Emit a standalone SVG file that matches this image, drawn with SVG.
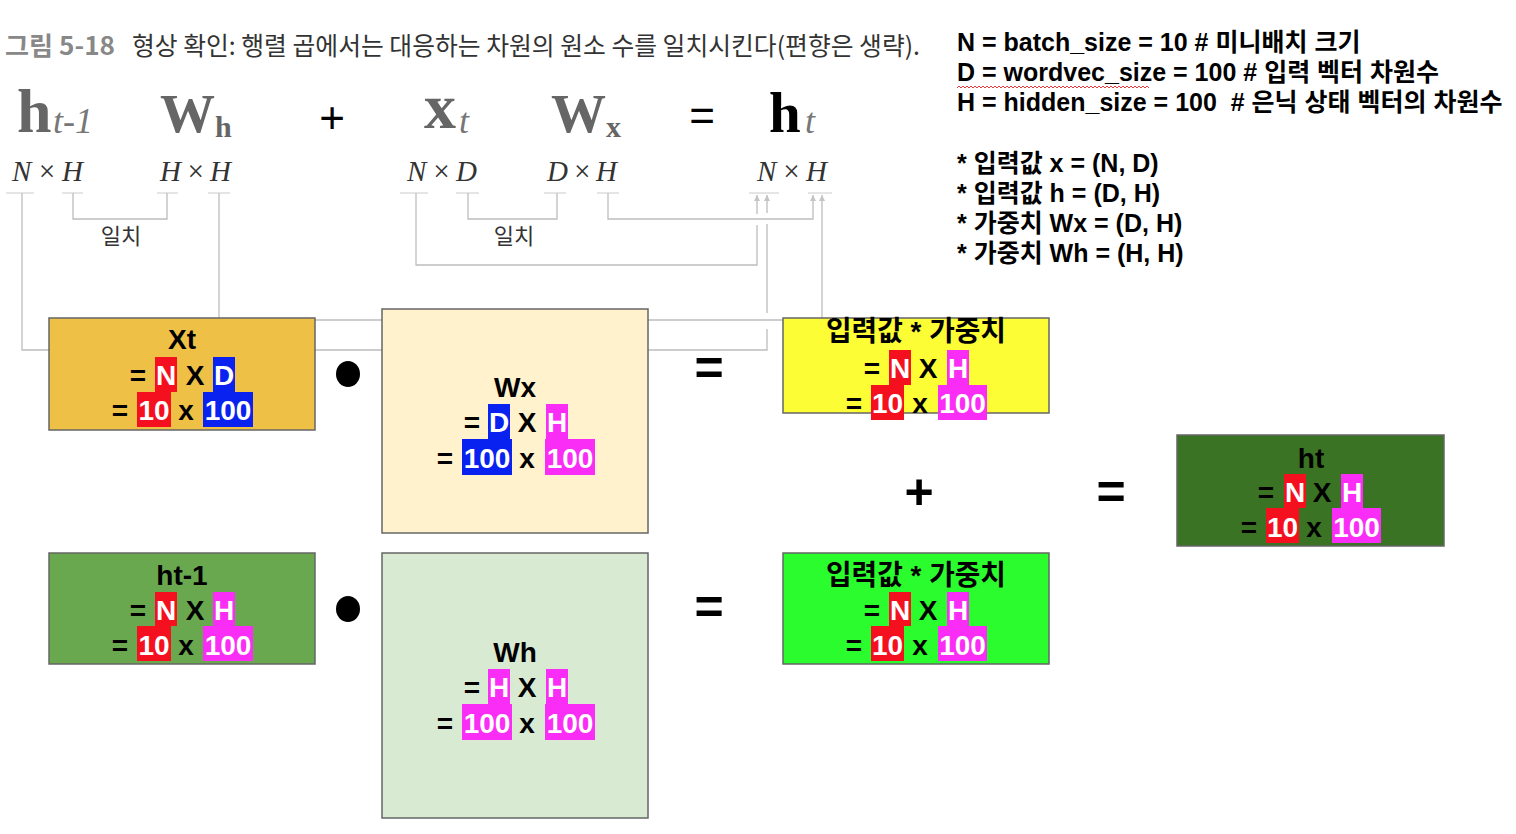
<svg xmlns="http://www.w3.org/2000/svg" width="1516" height="834" viewBox="0 0 1516 834">
<defs>
<style>
.sans{font-family:"Liberation Sans","Noto Sans CJK KR",sans-serif;}
.kr{font-family:"Noto Sans CJK KR","Liberation Sans",sans-serif;}
.ser{font-family:"Liberation Serif","DejaVu Serif",serif;}
.bx{stroke:#666;stroke-width:1.5;}
.t{font-family:"Liberation Sans","Noto Sans CJK KR",sans-serif;font-weight:bold;font-size:28px;fill:#000;text-anchor:middle;}
.w{fill:#fff;}
.red{fill:#F5101F;}
.blu{fill:#0A22F0;}
.mag{fill:#FA2DF6;}
.tick{stroke:#cccccc;stroke-width:1.2;fill:none;}
.ln{stroke:#bdbdbd;stroke-width:1.3;fill:none;}
.dim{font-family:"Liberation Serif","DejaVu Serif",serif;font-style:italic;font-size:29px;fill:#333;}
.info{font-family:"Liberation Sans","Noto Sans CJK KR",sans-serif;font-weight:bold;font-size:25px;fill:#000;white-space:pre;}
.op{font-family:"Liberation Sans",sans-serif;font-weight:bold;font-size:50px;fill:#000;text-anchor:middle;}
</style>
<marker id="arr" viewBox="0 0 10 10" refX="10" refY="5" markerWidth="9" markerHeight="6" orient="auto" markerUnits="userSpaceOnUse">
<path d="M0,0 L10,5 L0,10 z" fill="#c4c4c4"/>
</marker>
</defs>
<rect x="0" y="0" width="1516" height="834" fill="#fff"/>

<g id="title">
<text x="5" y="55" class="kr" font-size="25" font-weight="bold" fill="#888" textLength="110" lengthAdjust="spacingAndGlyphs">그림 5-18</text>
<text x="132" y="55" class="kr" font-size="25" fill="#333" textLength="788" lengthAdjust="spacingAndGlyphs">형상 확인: 행렬 곱에서는 대응하는 차원의 원소 수를 일치시킨다(편향은 생략).</text>
</g>

<g id="formula">
<text x="17" y="132" class="ser" font-size="62" font-weight="bold" fill="#666">h</text>
<text x="53" y="133" class="ser" font-size="36" font-style="italic" fill="#777">t-1</text>
<text x="160" y="132" class="ser" font-size="55" font-weight="bold" fill="#666">W<tspan font-size="30" dy="5">h</tspan></text>
<text x="332" y="133" class="sans" font-size="44" fill="#000" text-anchor="middle">+</text>
<text x="424" y="128" class="ser" font-size="64" font-weight="bold" fill="#666">x</text>
<text x="459" y="133" class="ser" font-size="36" font-style="italic" fill="#777">t</text>
<text x="551" y="132" class="ser" font-size="55" font-weight="bold" fill="#666">W<tspan font-size="30" dy="5">x</tspan></text>
<text x="702" y="131" class="sans" font-size="44" fill="#000" text-anchor="middle">=</text>
<text x="769" y="132" class="ser" font-size="57" font-weight="bold" fill="#000">h</text>
<text x="805" y="133" class="ser" font-size="36" font-style="italic" fill="#777">t</text>
<text x="12" y="181" class="dim" textLength="71">N × H</text>
<text x="160" y="181" class="dim" textLength="71">H × H</text>
<text x="407" y="181" class="dim" textLength="70">N × D</text>
<text x="547" y="181" class="dim" textLength="70">D × H</text>
<text x="757" y="181" class="dim" textLength="70">N × H</text>
<text x="121" y="244" class="kr" font-size="22" fill="#333" text-anchor="middle">일치</text>
<text x="514" y="244" class="kr" font-size="22" fill="#333" text-anchor="middle">일치</text>
</g>

<g id="info">
<text x="957" y="51" class="info">N = batch_size = 10 # 미니배치 크기</text>
<text x="957" y="81" class="info">D = wordvec_size = 100 # 입력 벡터 차원수</text>
<path d="M957,88 l2,-2 2,2 2,-2 2,2 2,-2 2,2 2,-2 2,2 2,-2 2,2 2,-2 2,2 2,-2 2,2 2,-2 2,2 2,-2 2,2 2,-2 2,2 2,-2 2,2 2,-2 2,2 2,-2 2,2 2,-2 2,2 2,-2 2,2 2,-2 2,2 2,-2 2,2 2,-2 2,2 2,-2 2,2 2,-2 2,2 2,-2 2,2 2,-2 2,2 2,-2 2,2 2,-2 2,2 2,-2 2,2 2,-2 2,2 2,-2 2,2 2,-2 2,2 2,-2 2,2 2,-2 2,2 2,-2 2,2 2,-2 2,2 2,-2 2,2 2,-2 2,2 2,-2 2,2 2,-2 2,2 2,-2 2,2 2,-2 2,2 2,-2 2,2 2,-2 2,2 2,-2 2,2 2,-2 2,2 2,-2 2,2 2,-2 2,2 2,-2 2,2 2,-2 2,2 2,-2 2,2 2,-2 2,2" stroke="#e23a3a" stroke-width="1" fill="none"/>
<text x="957" y="111" class="info" xml:space="preserve">H = hidden_size = 100  # 은닉 상태 벡터의 차원수</text>
<text x="957" y="172" class="info">* 입력값 x = (N, D)</text>
<text x="957" y="202" class="info">* 입력값 h = (D, H)</text>
<text x="957" y="232" class="info">* 가중치 Wx = (D, H)</text>
<text x="957" y="262" class="info">* 가중치 Wh = (H, H)</text>
</g>

<g id="connectors">
<path class="tick" d="M6,193H34 M62,193H83 M157,193H178 M208,193H230 M400,193H428 M456,193H479 M544,193H566 M597,193H619 M749,193H779 M808,193H832"/>
<path class="ln" d="M73,193V219H167V193"/>
<path class="ln" d="M468,193V219H557V193"/>
<path class="ln" d="M22,193V350H767V329 M767,313V224"/>
<path class="ln" d="M767,213V195" marker-end="url(#arr)"/>
<path class="ln" d="M219,193V320H822V195" marker-end="url(#arr)"/>
<path class="ln" d="M416,193V265H757V225"/>
<path class="ln" d="M757,214V195" marker-end="url(#arr)"/>
<path class="ln" d="M608,193V219H813V195" marker-end="url(#arr)"/>
</g>

<g id="node-xt">
<rect class="bx" x="49" y="318" width="266" height="112" fill="#EFC046"/>
<text class="t" x="182" y="349">Xt</text>
<text class="t" x="138" y="385">=</text>
<rect class="red" x="155" y="357" width="22" height="35"/><text class="t w" x="166" y="385">N</text>
<text class="t" x="195" y="385">X</text>
<rect class="blu" x="213" y="357" width="22" height="35"/><text class="t w" x="224" y="385">D</text>
<text class="t" x="120" y="420">=</text>
<rect class="red" x="137" y="392" width="34" height="35"/><text class="t w" x="154" y="420">10</text>
<text class="t" x="186" y="420">x</text>
<rect class="blu" x="203" y="392" width="50" height="35"/><text class="t w" x="228" y="420">100</text>
</g>

<g id="node-wx">
<rect class="bx" x="382" y="309" width="266" height="224" fill="#FFF2CC"/>
<text class="t" x="515" y="397">Wx</text>
<text class="t" x="472" y="432">=</text>
<rect class="blu" x="488" y="404" width="22" height="35"/><text class="t w" x="499" y="432">D</text>
<text class="t" x="527" y="432">X</text>
<rect class="mag" x="546" y="404" width="22" height="35"/><text class="t w" x="557" y="432">H</text>
<text class="t" x="445" y="468">=</text>
<rect class="blu" x="462" y="439" width="50" height="36"/><text class="t w" x="487" y="468">100</text>
<text class="t" x="527" y="468">x</text>
<rect class="mag" x="545" y="439" width="50" height="36"/><text class="t w" x="570" y="468">100</text>
</g>

<g id="dot1"><ellipse cx="348" cy="374" rx="12" ry="13" fill="#000"/></g>
<g id="eq1"><text class="op" x="709" y="385">=</text></g>

<g id="node-xw">
<rect class="bx" x="783" y="318" width="266" height="95" fill="#FDFD36"/>
<text class="t" x="916" y="341" font-size="30" textLength="180" lengthAdjust="spacingAndGlyphs">입력값 * 가중치</text>
<text class="t" x="872" y="378">=</text>
<rect class="red" x="889" y="350" width="22" height="35"/><text class="t w" x="900" y="378">N</text>
<text class="t" x="928" y="378">X</text>
<rect class="mag" x="947" y="350" width="22" height="35"/><text class="t w" x="958" y="378">H</text>
<text class="t" x="854" y="413">=</text>
<rect class="red" x="871" y="385" width="33" height="35"/><text class="t w" x="887.5" y="413">10</text>
<text class="t" x="920" y="413">x</text>
<rect class="mag" x="938" y="385" width="49" height="35"/><text class="t w" x="962.5" y="413">100</text>
</g>

<g id="plus"><text class="op" x="919" y="509">+</text></g>
<g id="eq3"><text class="op" x="1111" y="509">=</text></g>

<g id="node-ht">
<rect class="bx" x="1177" y="435" width="267" height="111" fill="#3A7323"/>
<text class="t" x="1311" y="468">ht</text>
<text class="t" x="1266" y="502">=</text>
<rect class="red" x="1284" y="474" width="22" height="34"/><text class="t w" x="1295" y="502">N</text>
<text class="t" x="1322" y="502">X</text>
<rect class="mag" x="1341" y="474" width="22" height="34"/><text class="t w" x="1352" y="502">H</text>
<text class="t" x="1249" y="537">=</text>
<rect class="red" x="1266" y="508" width="33" height="35"/><text class="t w" x="1282.5" y="537">10</text>
<text class="t" x="1314" y="537">x</text>
<rect class="mag" x="1332" y="508" width="49" height="35"/><text class="t w" x="1356.5" y="537">100</text>
</g>

<g id="node-ht1">
<rect class="bx" x="49" y="553" width="266" height="111" fill="#6AA84F"/>
<text class="t" x="182" y="585">ht-1</text>
<text class="t" x="138" y="620">=</text>
<rect class="red" x="155" y="592" width="22" height="34"/><text class="t w" x="166" y="620">N</text>
<text class="t" x="195" y="620">X</text>
<rect class="mag" x="213" y="592" width="22" height="34"/><text class="t w" x="224" y="620">H</text>
<text class="t" x="120" y="655">=</text>
<rect class="red" x="137" y="626" width="34" height="35"/><text class="t w" x="154" y="655">10</text>
<text class="t" x="186" y="655">x</text>
<rect class="mag" x="203" y="626" width="50" height="35"/><text class="t w" x="228" y="655">100</text>
</g>

<g id="dot2"><ellipse cx="348" cy="609" rx="12" ry="13" fill="#000"/></g>

<g id="node-wh">
<rect class="bx" x="382" y="553" width="266" height="265" fill="#D9EAD3"/>
<text class="t" x="515" y="662">Wh</text>
<text class="t" x="472" y="697">=</text>
<rect class="mag" x="488" y="669" width="22" height="35"/><text class="t w" x="499" y="697">H</text>
<text class="t" x="527" y="697">X</text>
<rect class="mag" x="546" y="669" width="22" height="35"/><text class="t w" x="557" y="697">H</text>
<text class="t" x="445" y="733">=</text>
<rect class="mag" x="462" y="704" width="50" height="36"/><text class="t w" x="487" y="733">100</text>
<text class="t" x="527" y="733">x</text>
<rect class="mag" x="545" y="704" width="50" height="36"/><text class="t w" x="570" y="733">100</text>
</g>

<g id="eq2"><text class="op" x="709" y="624">=</text></g>

<g id="node-hw">
<rect class="bx" x="783" y="553" width="266" height="111" fill="#2BFC2E"/>
<text class="t" x="916" y="585" font-size="30" textLength="180" lengthAdjust="spacingAndGlyphs">입력값 * 가중치</text>
<text class="t" x="872" y="620">=</text>
<rect class="red" x="889" y="592" width="22" height="34"/><text class="t w" x="900" y="620">N</text>
<text class="t" x="928" y="620">X</text>
<rect class="mag" x="947" y="592" width="22" height="34"/><text class="t w" x="958" y="620">H</text>
<text class="t" x="854" y="655">=</text>
<rect class="red" x="871" y="626" width="33" height="35"/><text class="t w" x="887.5" y="655">10</text>
<text class="t" x="920" y="655">x</text>
<rect class="mag" x="938" y="626" width="49" height="35"/><text class="t w" x="962.5" y="655">100</text>
</g>
</svg>
